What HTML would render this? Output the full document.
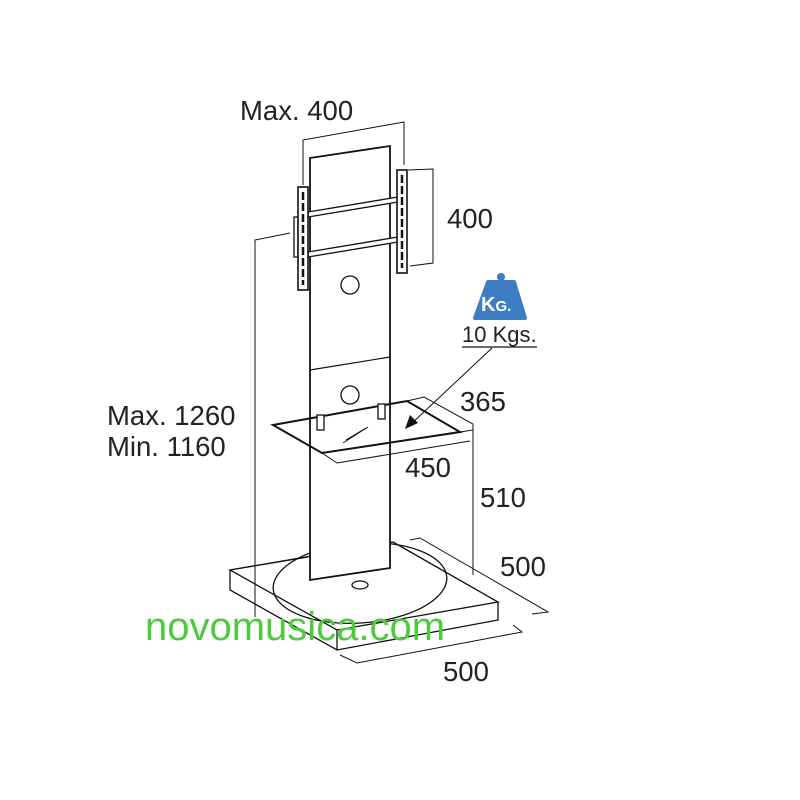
<!DOCTYPE html><html><head><style>body{margin:0;background:#fff}svg{display:block}text{font-family:"Liberation Sans",sans-serif;fill:#222}</style></head><body>
<svg width="800" height="800" viewBox="0 0 800 800" xmlns="http://www.w3.org/2000/svg">
<g fill="none" stroke="#111" stroke-width="1.3">
<path d="M230,570 L308,557 M393,542 L498,602 L337,630 L230,570 Z" fill="#fff"/>
<path d="M230,570 L230,590 L337,650 L498,620 L498,602 M337,630 L337,650"/>
<ellipse cx="360" cy="583" rx="87" ry="40" transform="rotate(-4 360 583)"/>
<ellipse cx="360" cy="585" rx="8" ry="4"/>
<path d="M290,233 L255,240 L255,617" stroke-width="1"/>
<path d="M310,158 L390,146 L390,568 L310,580 Z" fill="#fff" stroke-width="1.8"/>
<path d="M310,370 L390,357" stroke-width="1.2"/>
<ellipse cx="350" cy="285" rx="9" ry="9" transform="rotate(20 350 285)"/>
<ellipse cx="350" cy="395" rx="9" ry="9"/>
<path d="M303,185 L303,140 L404,122 L404,165" stroke-width="1"/>
<path d="M308,212 L398,197 L398,202 L308,217 Z" fill="#fff"/>
<path d="M308,252 L398,237 L398,242 L308,257 Z" fill="#fff"/>
<rect x="294" y="217" width="4" height="40" fill="#fff"/>
<rect x="298" y="187" width="10" height="103" fill="#fff" stroke-width="1.6"/>
<rect x="397" y="170" width="10" height="103" fill="#fff" stroke-width="1.6"/>
<path d="M303,192 V285 M402,175 V268" stroke-width="2.5" stroke-dasharray="8 3"/>
<path d="M408,170 L433,169 L433,263 L410,266" stroke-width="1"/>
<path d="M273,425 L407,401 L460,432 L322,453 Z" stroke-width="2"/>
<path d="M407,401 L424,397 L473,424 L473,575 M460,432 L473,430 M322,453 L337,463 L470,441" stroke-width="1"/>
<rect x="317" y="415" width="7" height="15" fill="#fff"/>
<rect x="378" y="404" width="7" height="15" fill="#fff"/>
<path d="M343,443 L368,427 M346,440 L366,428" stroke-width="1"/>
<path d="M410,540 L420,538 L548,612 L532,614" stroke-width="1"/>
<path d="M340,655 L357,663 L522,632 L513,625" stroke-width="1"/>
<path d="M492,348 L410,425" stroke-width="1"/>
<path d="M462,347 L537,347" stroke-width="1.3"/>
</g>
<path d="M405,429 L410,415 L418,423 Z" fill="#111"/>
<circle cx="501" cy="277" r="4" fill="#3c7dc4"/>
<path d="M488,282 L514,282 L525,318 L475,318 Z" fill="#3c7dc4" stroke="#3c7dc4" stroke-width="4" stroke-linejoin="round"/>
<text x="481" y="311" font-size="20" font-weight="bold" style="fill:#fff">K<tspan font-size="15">G.</tspan></text>
<text x="462" y="342" font-size="22">10 Kgs.</text>
<text x="240" y="120" font-size="27.5">Max. 400</text>
<text x="447" y="228" font-size="27.5">400</text>
<text x="460" y="411" font-size="27.5">365</text>
<text x="405" y="477" font-size="27.5">450</text>
<text x="480" y="507" font-size="27.5">510</text>
<text x="500" y="576" font-size="27.5">500</text>
<text x="443" y="681" font-size="27.5">500</text>
<text x="107" y="425" font-size="27.5">Max. 1260</text>
<text x="107" y="456" font-size="27.5">Min. 1160</text>
<text x="145" y="640" font-size="40" style="fill:#4ccc3c">novomusica.com</text>
</svg></body></html>
